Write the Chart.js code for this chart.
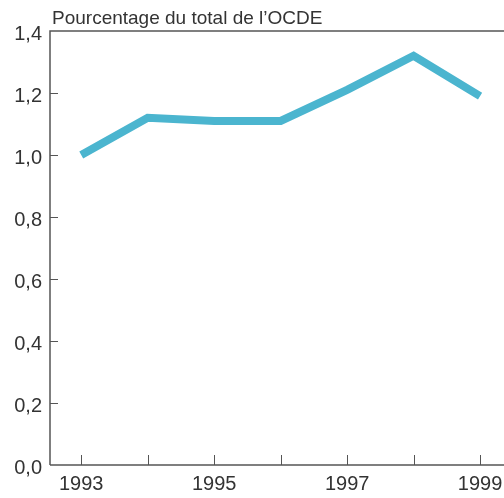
<!DOCTYPE html>
<html>
<head>
<meta charset="utf-8">
<script src="https://cdn.jsdelivr.net/npm/chart.js@4"></script>
<style>
html,body{margin:0;padding:0;background:#fff;}
#wrap{width:504px;height:498px;}
</style>
</head>
<body>
<div id="wrap"><canvas id="c" width="504" height="498"></canvas></div>
<script>
const years = [1993, 1994, 1995, 1996, 1997, 1998, 1999];
const shareOfOECD = [1.00, 1.12, 1.11, 1.11, 1.21, 1.32, 1.19];
const yTicks = [0, 0.2, 0.4, 0.6, 0.8, 1.0, 1.2, 1.4];
const xLabelYears = [1993, 1995, 1997, 1999];
const unitLabel = "Pourcentage du total de l\u2019OCDE";

const AXIS = '#555555';
const TEXT = '#333333';
const FONT = '"Liberation Sans", Arial, sans-serif';

const decor = {
  id: 'decor',
  afterDraw(chart) {
    const ctx = chart.ctx, a = chart.chartArea;
    const xs = chart.scales.x, ys = chart.scales.y;
    ctx.save();
    ctx.strokeStyle = AXIS;
    ctx.lineWidth = 1.5;
    ctx.beginPath();
    ctx.moveTo(a.left, a.bottom); ctx.lineTo(a.left, a.top); ctx.lineTo(a.right, a.top);
    ctx.moveTo(a.left, a.bottom); ctx.lineTo(a.right, a.bottom);
    ctx.stroke();
    ctx.lineWidth = 1;
    ctx.beginPath();
    yTicks.forEach(v => {
      if (v === 0 || v === 1.4) return;
      const y = Math.round(ys.getPixelForValue(v)) + 0.5;
      ctx.moveTo(a.left, y); ctx.lineTo(a.left + 8, y);
    });
    years.forEach(v => {
      const x = Math.round(xs.getPixelForValue(v)) + 0.5;
      ctx.moveTo(x, a.bottom); ctx.lineTo(x, a.bottom - 10);
    });
    ctx.stroke();
    ctx.fillStyle = TEXT;
    ctx.font = '19px ' + FONT;
    ctx.textAlign = 'left';
    ctx.textBaseline = 'alphabetic';
    ctx.fillText(unitLabel, a.left + 2, a.top - 7);
    ctx.restore();
  }
};

new Chart(document.getElementById('c'), {
  type: 'line',
  data: {
    datasets: [{
      data: years.map((y, i) => ({x: y, y: shareOfOECD[i]})),
      borderColor: '#4bb5cf',
      borderWidth: 8,
      pointRadius: 0,
      tension: 0,
      borderJoinStyle: 'miter',
      borderCapStyle: 'butt',
      fill: false
    }]
  },
  options: {
    responsive: false,
    animation: false,
    layout: {padding: {top: 31, left: 0, right: 0, bottom: 0}},
    plugins: {legend: {display: false}, tooltip: {enabled: false}, title: {display: false}},
    scales: {
      x: {
        type: 'linear',
        min: 1992.53,
        max: 1999.36,
        afterBuildTicks: s => { s.ticks = xLabelYears.map(v => ({value: v})); },
        afterFit: s => { s.height = 33; s.paddingLeft = 0; s.paddingRight = 0; },
        grid: {display: false, drawTicks: false},
        border: {display: false},
        ticks: {
          color: TEXT, font: {family: FONT, size: 20}, padding: 7, maxRotation: 0,
          callback: v => String(v)
        }
      },
      y: {
        min: 0,
        max: 1.4,
        afterBuildTicks: s => { s.ticks = yTicks.map(v => ({value: v})); },
        afterFit: s => { s.width = 50; s.paddingTop = 0; s.paddingBottom = 0; },
        grid: {display: false, drawTicks: false},
        border: {display: false},
        ticks: {
          color: TEXT, font: {family: FONT, size: 20}, padding: 8, labelOffset: 3,
          callback: v => Number(v).toFixed(1).replace('.', ',')
        }
      }
    }
  },
  plugins: [decor]
});
</script>
</body>
</html>
